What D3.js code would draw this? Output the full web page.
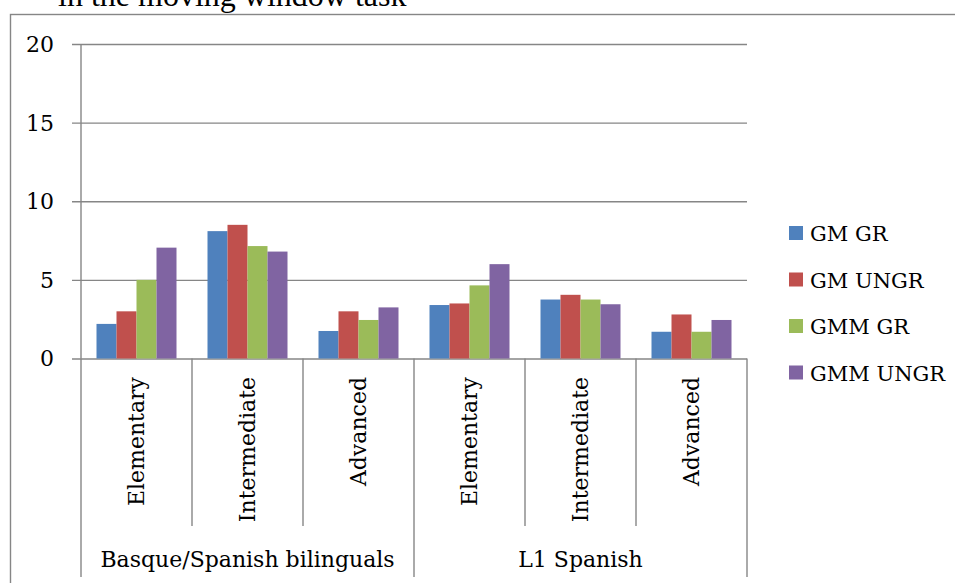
<!DOCTYPE html>
<html>
<head>
<meta charset="utf-8">
<script src="https://cdn.jsdelivr.net/npm/d3@7"></script>
<style>
  html, body { margin: 0; padding: 0; background: #fff; }
  svg { display: block; }
  text { font-family: "DejaVu Serif", serif; fill: #000; }
</style>
</head>
<body>
<svg id="chart" width="955" height="583"></svg>
<script>
// Groups (outer category level) and proficiency levels (inner level)
const groups = ["Basque/Spanish bilinguals", "L1 Spanish"];
const levels = ["Elementary", "Intermediate", "Advanced"];

// Series names and colours
const seriesNames = ["GM GR", "GM UNGR", "GMM GR", "GMM UNGR"];
const seriesColors = ["#4F81BD", "#C0504D", "#9BBB59", "#8064A2"];

// Values per series, in order: bilinguals (Elem, Inter, Adv), L1 Spanish (Elem, Inter, Adv)
const gmGr     = [2.2, 8.1, 1.75, 3.4, 3.75, 1.7];
const gmUngr   = [3.0, 8.5, 3.0, 3.5, 4.05, 2.8];
const gmmGr    = [5.0, 7.15, 2.45, 4.65, 3.75, 1.7];
const gmmUngr  = [7.05, 6.8, 3.25, 6.0, 3.45, 2.45];
const seriesValues = [gmGr, gmUngr, gmmGr, gmmUngr];

// Y axis ticks
const yTicks = [0, 5, 10, 15, 20];

const svg = d3.select("#chart");
const grey = "#868686";

// Outer chart frame (continues past the right and bottom edges)
svg.append("rect")
  .attr("x", 10.5).attr("y", 14.5)
  .attr("width", 1200).attr("height", 1200)
  .attr("fill", "none").attr("stroke", grey).attr("stroke-width", 1.4);

// Caption line above the frame
svg.append("text")
  .attr("x", 58).attr("y", 6)
  .style("font-family", "'Liberation Serif', serif")
  .style("font-size", "32px")
  .text("in the moving window task");

// Category keys: one band per (group, level)
const cats = [];
groups.forEach(g => levels.forEach(l => cats.push(g + "|" + l)));

const x = d3.scaleBand().domain(cats).range([81, 747]).paddingInner(0).paddingOuter(0);
const xs = d3.scaleBand().domain(seriesNames).range([0, x.bandwidth()])
  .paddingInner(0).paddingOuter(0.775);
const y = d3.scaleLinear().domain([0, 20]).range([358.5, 44]);

// Horizontal gridlines with left tick stubs
const yAxis = d3.axisLeft(y).tickValues(yTicks).tickSize(-(747 - 72)).tickPadding(0).tickFormat("");
const gy = svg.append("g").attr("transform", "translate(747,0)").call(yAxis.tickSize(747 - 72));
gy.select(".domain").remove();
gy.selectAll(".tick line").attr("stroke", grey).attr("stroke-width", 1.4);

// Y tick labels
svg.append("g").selectAll("text").data(yTicks).join("text")
  .attr("x", 54).attr("y", d => y(d))
  .attr("dy", "0.36em")
  .attr("text-anchor", "end")
  .style("font-size", "22px")
  .text(d => d);

// Bars
cats.forEach((c, ci) => {
  svg.append("g").selectAll("rect").data(seriesNames).join("rect")
    .attr("x", s => x(c) + xs(s))
    .attr("width", xs.bandwidth())
    .attr("y", (s, si) => y(seriesValues[si][ci]))
    .attr("height", (s, si) => y(0) - y(seriesValues[si][ci]))
    .attr("fill", (s, si) => seriesColors[si]);
});

// Vertical axis line
svg.append("line")
  .attr("x1", 81).attr("x2", 81).attr("y1", 44).attr("y2", 358.5)
  .attr("stroke", grey).attr("stroke-width", 1.4);

// Inner category separators
const innerEdges = cats.map(c => x(c)).concat([747]);
svg.append("g").selectAll("line").data(innerEdges).join("line")
  .attr("x1", d => d).attr("x2", d => d)
  .attr("y1", 358.5).attr("y2", 526)
  .attr("stroke", grey).attr("stroke-width", 1.4);

// Outer group separators
const outerX = d3.scaleBand().domain(groups).range([81, 747]);
const outerEdges = groups.map(g => outerX(g)).concat([747]);
svg.append("g").selectAll("line").data(outerEdges).join("line")
  .attr("x1", d => d).attr("x2", d => d)
  .attr("y1", 526).attr("y2", 577)
  .attr("stroke", grey).attr("stroke-width", 1.4);

// Rotated level labels
svg.append("g").selectAll("text").data(cats).join("text")
  .attr("transform", c => `translate(${x(c) + x.bandwidth() / 2 + 7},377) rotate(-90)`)
  .attr("text-anchor", "end")
  .style("font-size", "22px")
  .text(c => c.split("|")[1]);

// Group labels
svg.append("g").selectAll("text").data(groups).join("text")
  .attr("x", g => outerX(g) + outerX.bandwidth() / 2)
  .attr("y", 567)
  .attr("text-anchor", "middle")
  .style("font-size", "22px")
  .text(g => g);

// Legend
const legend = svg.append("g").selectAll("g").data(seriesNames).join("g")
  .attr("transform", (d, i) => `translate(789,${226 + i * 46.5})`);
legend.append("rect").attr("width", 14).attr("height", 14)
  .attr("fill", (d, i) => seriesColors[i]);
legend.append("text").attr("x", 21).attr("y", 15)
  .style("font-size", "21px")
  .text(d => d);
</script>
</body>
</html>
